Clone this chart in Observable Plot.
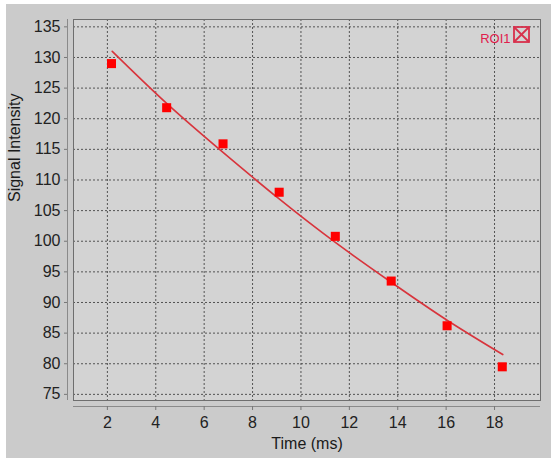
<!DOCTYPE html>
<html>
<head>
<meta charset="utf-8">
<script src="https://cdn.jsdelivr.net/npm/d3@7"></script>
<script src="https://cdn.jsdelivr.net/npm/@observablehq/plot@0.6"></script>
<style>
  html, body { margin: 0; padding: 0; background: #ffffff; }
  #chart { position: absolute; left: 6px; top: 4px; width: 545px; height: 454px; background: #cbcbcb; }
  #chart svg { display: block; }
</style>
</head>
<body>
<div id="chart"></div>
<script>
// Measured echo times (ms) and signal intensities for ROI1
const times = [2.17, 4.45, 6.78, 9.1, 11.42, 13.73, 16.04, 18.32];
const signal = [129.0, 121.8, 115.9, 108.0, 100.8, 93.5, 86.2, 79.5];
// Fitted decay curve at the same times
const fitTimes = [2.2, 4.45, 6.78, 9.1, 11.42, 13.73, 16.04, 18.34];
const fitValues = [131.0, 122.5, 114.5, 106.9, 99.8, 93.3, 87.1, 81.5];
const xTicks = [2, 4, 6, 8, 10, 12, 14, 16, 18];
const yTicks = [75, 80, 85, 90, 95, 100, 105, 110, 115, 120, 125, 130, 135];
const seriesName = "ROI1";

const points = times.map((t, i) => ({t, v: signal[i]}));
const fit = fitTimes.map((t, i) => ({t, v: fitValues[i]}));

const xDomain = [0.6, 19.9];
const yDomain = [74.0, 136.2];
const font = "Liberation Sans, Arial, sans-serif";

const chart = Plot.plot({
  width: 545,
  height: 454,
  marginLeft: 67,
  marginRight: 11,
  marginTop: 15,
  marginBottom: 58,
  style: {background: "transparent", fontFamily: font, fontSize: "16px", color: "#222"},
  x: {domain: xDomain, ticks: xTicks},
  y: {domain: yDomain, ticks: yTicks},
  marks: [
    Plot.frame({fill: "#d3d3d3"}),
    Plot.gridX(xTicks, {stroke: "#333", strokeOpacity: 0.8, strokeDasharray: "2,2"}),
    Plot.gridY(yTicks, {stroke: "#333", strokeOpacity: 0.8, strokeDasharray: "2,2"}),
    Plot.frame({stroke: "#6e6e6e"}),
    Plot.ruleX([xDomain[0]], {stroke: "#8a8a8a", dx: -6}),
    Plot.ruleY([yDomain[0]], {stroke: "#8a8a8a", dy: 6}),
    Plot.axisX(xTicks, {tickSize: 4, dy: 6, tickPadding: 6, fontSize: 16, stroke: "#777", fill: "#222", label: null}),
    Plot.axisY(yTicks, {tickSize: 3, dx: -6, tickPadding: 4, fontSize: 16, stroke: "#777", fill: "#222", label: null}),
    Plot.text(["Time (ms)"], {frameAnchor: "bottom", dy: 48, fontSize: 16, fill: "#1a1a1a"}),
    Plot.text(["Signal Intensity"], {frameAnchor: "left", dx: -59, dy: -8, rotate: -90, fontSize: 16, fill: "#1a1a1a"}),
    Plot.line(fit, {x: "t", y: "v", curve: "natural", stroke: "#d8343c", strokeWidth: 1.6}),
    Plot.dot(points, {x: "t", y: "v", symbol: "square", r: 5.1, fill: "#ff0000", stroke: "none"}),
    Plot.text([seriesName], {frameAnchor: "top-right", dx: -30, dy: 14, fontSize: 13, fill: "#e0204c", textAnchor: "end"})
  ]
});
document.getElementById("chart").appendChild(chart);

// legend swatch: square with an X, placed at top-right of the plot frame
const svg = d3.select(chart);
const gx = 545 - 11 - 26, gy = 15 + 8;
const g = svg.append("g").attr("stroke", "#d8304c").attr("stroke-width", 1.8).attr("fill", "none");
g.append("rect").attr("x", gx).attr("y", gy).attr("width", 15).attr("height", 15);
g.append("line").attr("x1", gx).attr("y1", gy).attr("x2", gx + 15).attr("y2", gy + 15);
g.append("line").attr("x1", gx + 15).attr("y1", gy).attr("x2", gx).attr("y2", gy + 15);
</script>
</body>
</html>
